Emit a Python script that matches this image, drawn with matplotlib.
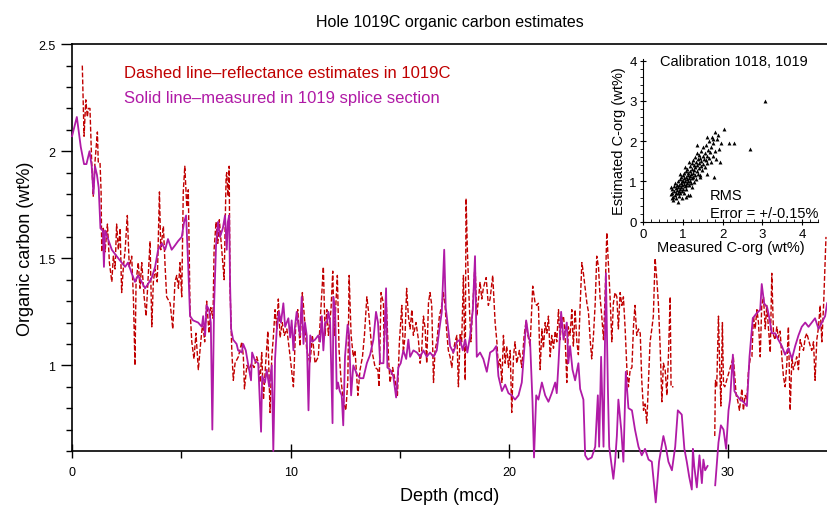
import matplotlib
matplotlib.use("Agg")
import matplotlib.pyplot as plt
from matplotlib.ticker import MultipleLocator
import numpy as np

plt.rcParams['font.family'] = ['Liberation Sans', 'DejaVu Sans']

nan = float('nan')

# measured organic carbon, 1019 splice (depth mcd, wt%)
measured = [
    (0.00, 2.07), (0.22, 2.16), (0.40, 2.02), (0.55, 1.94), (0.66, 1.94), (0.80, 2.00), (0.90, 1.93),
    (0.98, 1.80), (1.05, 1.93), (1.14, 1.89), (1.22, 1.83), (1.30, 1.64), (1.41, 1.63), (1.46, 1.46),
    (1.51, 1.63), (1.65, 1.59), (1.82, 1.54), (2.04, 1.51), (2.27, 1.48), (2.43, 1.46), (2.56, 1.48),
    (2.73, 1.43), (2.88, 1.39), (3.02, 1.42), (3.19, 1.39), (3.34, 1.36), (3.48, 1.38), (3.65, 1.41),
    (3.80, 1.46), (3.94, 1.54), (4.11, 1.57), (4.26, 1.54), (4.39, 1.59), (4.56, 1.54), (4.71, 1.56),
    (4.85, 1.58), (5.02, 1.60), (5.13, 1.67), (5.22, 1.70), (5.31, 1.48), (5.40, 1.23), (5.54, 1.21),
    (5.77, 1.20), (5.94, 1.18), (6.00, 1.23), (6.09, 1.14), (6.16, 1.28), (6.27, 1.26), (6.35, 1.20),
    (6.42, 0.70), (6.50, 1.28), (6.59, 1.56), (6.68, 1.67), (6.77, 1.60), (6.90, 1.64), (7.00, 1.70),
    (7.08, 1.54), (7.13, 1.67), (7.19, 1.70), (7.23, 1.39), (7.28, 1.17), (7.37, 1.12), (7.53, 1.10),
    (7.60, 1.07), (7.77, 1.06), (7.83, 1.10), (7.95, 1.07), (8.05, 1.01), (8.19, 0.93), (8.24, 1.06),
    (8.38, 1.02), (8.52, 1.01), (8.65, 0.69), (8.70, 0.95), (8.83, 0.92), (8.91, 0.98), (9.02, 0.90),
    (9.14, 1.00), (9.21, 0.60), (9.29, 1.03), (9.37, 1.17), (9.47, 1.25), (9.56, 1.20), (9.67, 1.29),
    (9.75, 1.18), (9.90, 1.22), (9.98, 1.13), (10.05, 1.21), (10.13, 1.07), (10.20, 1.18), (10.28, 1.25),
    (10.34, 1.20), (10.43, 1.14), (10.51, 1.32), (10.59, 1.10), (10.66, 1.20), (10.74, 1.14), (10.82, 0.79),
    (10.90, 1.14), (10.99, 1.11), (11.12, 1.12), (11.27, 1.14), (11.35, 1.11), (11.43, 1.23), (11.50, 1.07),
    (11.58, 1.20), (11.66, 1.20), (11.73, 1.25), (11.81, 1.20), (11.92, 0.73), (11.96, 1.32), (12.04, 1.26),
    (12.11, 0.89), (12.17, 0.92), (12.25, 0.88), (12.34, 0.86), (12.41, 0.72), (12.49, 1.04), (12.61, 1.19),
    (12.68, 1.14), (12.77, 0.86), (12.87, 1.00), (13.03, 0.96), (13.18, 0.94), (13.33, 0.94), (13.49, 1.01),
    (13.64, 1.05), (13.79, 1.12), (13.91, 1.25), (14.00, 1.20), (14.10, 1.01), (14.25, 1.01), (14.37, 1.36),
    (14.43, 0.99), (14.55, 0.98), (14.70, 0.95), (14.83, 0.85), (14.93, 0.99), (15.04, 1.01), (15.16, 1.07),
    (15.29, 1.03), (15.39, 1.12), (15.47, 1.04), (15.62, 1.07), (15.78, 1.06), (15.93, 1.04), (16.08, 1.07),
    (16.23, 1.04), (16.38, 1.06), (16.54, 1.04), (16.69, 1.07), (16.81, 1.17), (16.92, 1.25), (17.03, 1.54),
    (17.10, 1.27), (17.18, 1.20), (17.30, 1.09), (17.45, 1.06), (17.61, 1.11), (17.76, 1.12), (17.88, 1.07),
    (17.99, 1.12), (18.09, 1.06), (18.22, 1.14), (18.34, 1.26), (18.44, 1.51), (18.52, 1.04), (18.67, 1.06),
    (18.82, 1.03), (18.98, 0.97), (19.13, 1.06), (19.28, 1.07), (19.41, 1.09), (19.51, 0.95), (19.67, 0.88),
    (19.82, 0.91), (19.97, 0.87), (20.12, 0.86), (20.27, 0.84), (20.43, 0.86), (20.58, 0.92), (20.69, 1.07),
    (20.78, 1.21), (20.88, 1.14), (20.96, 1.11), (21.07, 0.83), (21.14, 0.57), (21.24, 0.86), (21.34, 0.84),
    (21.50, 0.92), (21.65, 0.86), (21.80, 0.83), (21.95, 0.87), (22.11, 0.92), (22.18, 0.87), (22.26, 1.01),
    (22.38, 1.25), (22.49, 1.12), (22.64, 1.20), (22.71, 1.01), (22.79, 1.09), (22.90, 0.98), (23.02, 0.93),
    (23.17, 1.01), (23.25, 0.89), (23.40, 0.84), (23.48, 0.58), (23.60, 0.56), (23.78, 0.57), (23.94, 0.62),
    (24.06, 0.86), (24.12, 0.62), (24.21, 1.04), (24.32, 0.62), (24.43, 1.43), (24.52, 0.89), (24.58, 0.62),
    (24.67, 0.55), (24.77, 0.47), (24.85, 0.55), (24.93, 0.67), (25.00, 0.84), (25.13, 0.70), (25.23, 0.55),
    (25.34, 0.97), (25.46, 0.80), (25.62, 0.79), (25.76, 0.70), (25.92, 0.62), (26.07, 0.58), (26.22, 0.61),
    (26.38, 0.56), (26.53, 0.55), (26.71, 0.36), (26.86, 0.55), (27.06, 0.67), (27.17, 0.62), (27.29, 0.55),
    (27.45, 0.51), (27.60, 0.62), (27.72, 0.79), (27.90, 0.77), (28.02, 0.61), (28.13, 0.55), (28.24, 0.48),
    (28.36, 0.42), (28.41, 0.61), (28.47, 0.53), (28.59, 0.43), (28.71, 0.58), (28.82, 0.45), (28.89, 0.56),
    (28.97, 0.51), (29.08, 0.53), (29.25, nan), (29.43, 0.44), (29.58, 0.64), (29.69, 0.72), (29.81, 0.70),
    (29.93, 0.61), (30.04, 0.79), (30.11, 0.84), (30.24, 1.05), (30.31, 0.88), (30.42, 0.86), (30.57, 0.84),
    (30.72, 0.83), (30.88, 0.81), (31.00, 1.04), (31.15, 1.22), (31.30, 1.24), (31.49, 1.26), (31.56, 1.38),
    (31.67, 1.29), (31.81, 1.27), (31.91, 1.22), (32.02, 1.15), (32.17, 1.15), (32.32, 1.12), (32.48, 1.09),
    (32.63, 1.05), (32.78, 1.08), (32.94, 1.03), (33.09, 1.09), (33.24, 1.14), (33.39, 1.18), (33.55, 1.20),
    (33.70, 1.18), (33.85, 1.20), (34.00, 1.22), (34.16, 1.17), (34.31, 1.20), (34.46, 1.23), (34.55, 1.29),
]

# reflectance based estimates, hole 1019C (depth mcd, wt%)
estimated = [
    (0.47, 2.40), (0.55, 2.07), (0.63, 2.24), (0.70, 2.16), (0.75, 2.20), (0.82, 2.20), (0.90, 1.95),
    (0.97, 1.79), (1.05, 1.95), (1.16, 2.09), (1.20, 1.95), (1.28, 1.95), (1.33, 1.81), (1.36, 1.53),
    (1.43, 1.64), (1.51, 1.53), (1.62, 1.66), (1.71, 1.48), (1.82, 1.39), (1.89, 1.51), (1.97, 1.45),
    (2.04, 1.66), (2.12, 1.54), (2.20, 1.64), (2.27, 1.34), (2.35, 1.46), (2.43, 1.54), (2.53, 1.70),
    (2.62, 1.46), (2.73, 1.51), (2.81, 1.31), (2.88, 1.00), (2.93, 1.39), (3.03, 1.48), (3.11, 1.36),
    (3.19, 1.48), (3.30, 1.32), (3.39, 1.23), (3.49, 1.42), (3.57, 1.58), (3.65, 1.18), (3.72, 1.39),
    (3.80, 1.45), (3.90, 1.39), (4.00, 1.81), (4.06, 1.54), (4.18, 1.65), (4.26, 1.46), (4.33, 1.32),
    (4.49, 1.29), (4.61, 1.17), (4.71, 1.39), (4.79, 1.42), (4.87, 1.36), (4.94, 1.48), (5.02, 1.32),
    (5.09, 1.81), (5.16, 1.93), (5.25, 1.74), (5.32, 1.82), (5.40, 1.26), (5.48, 1.11), (5.58, 1.03),
    (5.67, 1.15), (5.78, 0.98), (5.89, 1.11), (5.98, 1.20), (6.07, 1.11), (6.16, 1.30), (6.27, 1.15),
    (6.35, 1.27), (6.45, 1.22), (6.50, 1.54), (6.59, 1.67), (6.67, 1.57), (6.74, 1.68), (6.85, 1.54),
    (6.96, 1.40), (7.05, 1.88), (7.08, 1.90), (7.14, 1.79), (7.19, 1.93), (7.23, 1.36), (7.31, 1.07),
    (7.38, 0.93), (7.46, 1.01), (7.61, 1.04), (7.77, 1.11), (7.84, 1.04), (7.89, 0.89), (8.00, 1.00),
    (8.10, 0.98), (8.22, 1.01), (8.33, 0.99), (8.45, 1.04), (8.53, 1.01), (8.60, 0.92), (8.68, 1.06),
    (8.76, 0.84), (8.86, 1.01), (8.96, 1.16), (9.06, 0.78), (9.14, 1.04), (9.21, 1.13), (9.29, 1.26),
    (9.37, 1.17), (9.44, 1.31), (9.52, 1.13), (9.62, 1.20), (9.71, 1.14), (9.83, 1.17), (9.98, 1.04),
    (10.13, 0.90), (10.24, 1.20), (10.33, 1.26), (10.43, 1.09), (10.54, 1.34), (10.63, 1.23), (10.74, 1.07),
    (10.89, 1.01), (11.00, 1.14), (11.12, 1.01), (11.27, 1.04), (11.35, 1.20), (11.50, 1.46), (11.58, 1.14),
    (11.66, 1.26), (11.73, 1.14), (11.85, 1.26), (11.93, 1.44), (12.00, 1.14), (12.07, 1.28), (12.14, 1.42),
    (12.22, 1.07), (12.31, 0.93), (12.42, 0.83), (12.53, 0.79), (12.62, 0.93), (12.68, 1.42), (12.77, 1.14),
    (12.87, 1.04), (12.95, 1.07), (13.08, 0.86), (13.18, 0.98), (13.29, 1.04), (13.38, 1.14), (13.49, 1.32),
    (13.59, 1.23), (13.72, 1.07), (13.87, 0.99), (13.99, 0.98), (14.05, 0.90), (14.14, 1.34), (14.25, 1.29),
    (14.28, 1.07), (14.37, 1.32), (14.48, 1.04), (14.55, 0.92), (14.67, 0.99), (14.78, 0.93), (14.89, 0.86),
    (14.98, 1.11), (15.09, 1.28), (15.16, 1.06), (15.24, 1.14), (15.31, 1.36), (15.39, 1.23), (15.47, 1.17),
    (15.55, 1.26), (15.62, 1.14), (15.74, 1.20), (15.85, 1.12), (15.93, 1.01), (16.00, 1.07), (16.08, 1.23),
    (16.16, 1.17), (16.23, 1.01), (16.31, 1.29), (16.38, 1.34), (16.46, 1.28), (16.54, 0.92), (16.61, 1.07),
    (16.69, 1.11), (16.81, 1.23), (16.92, 1.28), (16.99, 1.34), (17.07, 1.28), (17.15, 1.15), (17.22, 1.07),
    (17.30, 1.04), (17.38, 0.99), (17.45, 1.07), (17.53, 1.11), (17.61, 1.14), (17.68, 0.90), (17.76, 1.15),
    (17.83, 1.11), (17.91, 1.42), (17.99, 0.93), (18.03, 1.78), (18.09, 1.54), (18.18, 1.28), (18.25, 1.11),
    (18.34, 1.28), (18.44, 1.48), (18.52, 1.23), (18.61, 1.32), (18.67, 1.39), (18.75, 1.31), (18.82, 1.36),
    (18.95, 1.41), (19.05, 1.28), (19.13, 1.31), (19.25, 1.42), (19.36, 1.20), (19.44, 1.11), (19.51, 0.99),
    (19.59, 1.03), (19.67, 0.92), (19.74, 1.14), (19.82, 1.01), (19.89, 1.09), (19.97, 0.99), (20.05, 1.07),
    (20.12, 0.78), (20.20, 1.04), (20.27, 1.11), (20.35, 1.01), (20.47, 1.07), (20.58, 0.99), (20.69, 1.14),
    (20.78, 1.21), (20.84, 1.15), (20.96, 1.09), (21.08, 1.37), (21.19, 1.29), (21.27, 1.28), (21.34, 1.29),
    (21.42, 0.98), (21.50, 1.17), (21.57, 1.08), (21.65, 1.20), (21.73, 1.15), (21.80, 1.23), (21.88, 1.04),
    (21.95, 1.14), (22.03, 1.08), (22.11, 1.16), (22.18, 1.11), (22.26, 1.26), (22.33, 1.12), (22.41, 1.21),
    (22.49, 1.23), (22.56, 1.14), (22.64, 0.92), (22.71, 1.18), (22.79, 1.14), (22.87, 1.26), (22.94, 1.09),
    (23.02, 1.26), (23.10, 1.11), (23.17, 1.05), (23.25, 1.28), (23.33, 1.48), (23.40, 1.43), (23.48, 1.36),
    (23.56, 1.29), (23.63, 1.25), (23.71, 1.12), (23.78, 1.03), (23.86, 1.14), (23.94, 1.29), (24.01, 1.51),
    (24.09, 1.46), (24.16, 1.32), (24.24, 1.23), (24.32, 1.12), (24.39, 1.32), (24.47, 1.62), (24.54, 1.48),
    (24.62, 1.32), (24.70, 1.11), (24.77, 1.29), (24.85, 1.34), (24.93, 1.32), (25.00, 1.17), (25.08, 1.34),
    (25.16, 1.28), (25.23, 1.32), (25.31, 1.17), (25.39, 0.98), (25.46, 0.90), (25.54, 0.98), (25.62, 0.99),
    (25.69, 1.18), (25.76, 1.28), (25.84, 1.14), (25.92, 1.17), (26.00, 1.15), (26.07, 0.93), (26.15, 0.79),
    (26.22, 0.82), (26.30, 0.73), (26.38, 0.93), (26.45, 1.11), (26.53, 1.17), (26.60, 1.23), (26.68, 1.50),
    (26.76, 1.40), (26.83, 1.29), (26.91, 1.09), (26.99, 0.83), (27.06, 1.01), (27.14, 0.98), (27.22, 0.86),
    (27.29, 1.04), (27.37, 1.32), (27.41, 0.90), (27.52, 0.90), (28.50, nan), (29.41, 0.67), (29.44, 0.93),
    (29.50, 0.90), (29.58, 1.23), (29.63, 1.02), (29.69, 0.81), (29.76, 1.20), (29.81, 0.91), (29.87, 0.90),
    (30.26, 1.04), (30.39, 0.86), (30.45, 0.84), (30.54, 0.79), (30.65, 0.89), (30.72, 0.79), (30.80, 0.86),
    (30.88, 0.84), (30.95, 0.97), (31.03, 1.03), (31.11, 1.04), (31.18, 1.23), (31.26, 1.17), (31.34, 1.26),
    (31.41, 1.20), (31.49, 1.04), (31.56, 1.28), (31.64, 1.32), (31.72, 1.17), (31.79, 1.28), (31.95, 1.06),
    (32.02, 1.43), (32.10, 1.14), (32.17, 1.12), (32.25, 1.18), (32.32, 1.13), (32.40, 1.16), (32.48, 1.04),
    (32.55, 0.95), (32.63, 0.90), (32.71, 1.01), (32.78, 1.18), (32.86, 0.79), (32.94, 1.04), (33.01, 0.98),
    (33.09, 1.01), (33.16, 1.04), (33.24, 0.98), (33.32, 1.12), (33.39, 1.09), (33.47, 1.07), (33.55, 1.13),
    (33.62, 1.15), (33.70, 1.12), (33.78, 1.09), (33.85, 1.07), (33.93, 1.11), (34.00, 0.93), (34.08, 1.12),
    (34.16, 1.18), (34.23, 1.28), (34.31, 1.11), (34.39, 1.28), (34.46, 1.48), (34.50, 1.60),
]

# calibration set 1018/1019: measured vs estimated C-org (wt%)
calib = [
    (0.72, 0.80), (0.74, 0.70), (0.75, 0.62), (0.76, 0.55), (0.78, 0.75), (0.79, 0.88), (0.80, 0.66),
    (0.81, 0.95), (0.82, 0.72), (0.83, 0.84), (0.84, 0.60), (0.85, 0.78), (0.86, 0.92), (0.87, 0.48),
    (0.87, 0.70), (0.88, 0.85), (0.89, 1.00), (0.90, 0.75), (0.90, 0.64), (0.91, 0.90), (0.92, 1.05),
    (0.93, 0.80), (0.94, 0.70), (0.95, 0.95), (0.96, 1.10), (0.96, 0.86), (0.97, 0.76), (0.98, 1.00),
    (0.99, 0.90), (1.00, 1.15), (1.00, 0.82), (1.01, 1.02), (1.02, 0.94), (1.03, 0.72), (1.03, 1.20),
    (1.04, 1.08), (1.05, 0.88), (1.06, 1.00), (1.07, 1.25), (1.07, 0.92), (1.08, 1.12), (1.09, 0.80),
    (1.10, 1.05), (1.10, 0.96), (1.11, 1.30), (1.12, 1.16), (1.13, 0.66), (1.13, 1.00), (1.14, 1.22),
    (1.15, 1.08), (1.16, 0.90), (1.17, 1.38), (1.17, 1.14), (1.18, 1.02), (1.19, 1.26), (1.20, 0.95),
    (1.21, 1.18), (1.22, 1.45), (1.22, 1.08), (1.23, 0.85), (1.24, 1.32), (1.25, 1.12), (1.26, 1.52),
    (1.26, 1.22), (1.27, 0.98), (1.28, 1.40), (1.29, 1.28), (1.30, 1.15), (1.31, 1.60), (1.32, 1.36),
    (1.33, 1.05), (1.34, 1.48), (1.35, 1.25), (1.36, 1.70), (1.37, 1.42), (1.38, 1.18), (1.39, 1.55),
    (1.40, 1.33), (1.41, 1.65), (1.42, 1.45), (1.43, 1.10), (1.44, 1.58), (1.45, 1.38), (1.46, 1.75),
    (1.47, 1.50), (1.48, 1.28), (1.50, 1.62), (1.51, 1.44), (1.52, 1.85), (1.53, 1.55), (1.55, 1.35),
    (1.56, 1.70), (1.58, 1.52), (1.59, 1.90), (1.60, 1.64), (1.61, 1.19), (1.62, 1.45), (1.63, 1.78),
    (1.65, 1.58), (1.66, 2.00), (1.68, 1.72), (1.70, 1.48), (1.72, 1.85), (1.74, 2.10), (1.76, 1.62),
    (1.77, 1.95), (1.78, 1.10), (1.80, 1.75), (1.82, 2.22), (1.84, 1.55), (1.86, 2.05), (1.88, 2.15),
    (1.90, 1.80), (1.93, 1.48), (1.96, 1.95), (2.04, 2.31), (2.17, 1.95), (2.28, 1.96), (2.68, 1.81),
    (3.06, 3.01), (0.70, 0.85), (0.71, 0.68), (0.73, 0.58), (1.44, 1.15), (1.19, 0.65), (1.36, 1.90),
    (1.61, 2.10), (1.76, 2.06), (1.08, 0.62), (0.98, 0.58), (1.05, 1.35), (0.93, 1.18), (1.15, 1.48),
]

meas_depth, meas_corg = zip(*measured)
est_depth, est_corg = zip(*estimated)
cal_meas, cal_est = zip(*calib)

red = '#c00000'
purple = '#b01aa6'

fig = plt.figure(figsize=(8.27, 5.06), dpi=100)
ax = fig.add_axes([0.0871, 0.1067, 0.913, 0.804])

ax.plot(est_depth, est_corg, color=red, lw=1.0, dashes=(3.5, 1.5), zorder=2)
ax.plot(meas_depth, meas_corg, color=purple, lw=1.3, zorder=3, clip_on=False)

ax.set_xlim(0, 34.55)
ax.set_ylim(0.6, 2.5)
ax.spines['right'].set_visible(False)
for s in ['left', 'bottom', 'top']:
    ax.spines[s].set_linewidth(1.2)

ax.xaxis.set_major_locator(MultipleLocator(10))
ax.xaxis.set_minor_locator(MultipleLocator(5))
ax.yaxis.set_minor_locator(MultipleLocator(0.1))
ax.set_yticks([1, 1.5, 2, 2.5])
ax.set_yticklabels(['1', '1.5', '2', '2.5'])
ax.tick_params(axis='x', which='major', direction='inout', length=10, width=1, labelsize=9, pad=6)
ax.tick_params(axis='x', which='minor', direction='out', length=5, width=1)
ax.tick_params(axis='y', which='major', direction='out', length=8, width=1, labelsize=9, pad=4)
ax.tick_params(axis='y', which='minor', direction='out', length=4, width=1)

ax.set_xlabel('Depth (mcd)', fontsize=13, labelpad=6)
ax.set_ylabel('Organic carbon (wt%)', fontsize=13, labelpad=3)
fig.text(0.544, 0.955, 'Hole 1019C organic carbon estimates', ha='center', va='center', fontsize=11.5)

ax.text(2.38, 2.37, 'Dashed line\u2013reflectance estimates in 1019C', color=red,
        fontsize=12, va='center')
ax.text(2.38, 2.25, 'Solid line\u2013measured in 1019 splice section', color=purple,
        fontsize=12, va='center')

# calibration inset
ins = fig.add_axes([0.7775, 0.56, 0.2116, 0.322], facecolor='none')
ins.scatter(cal_meas, cal_est, marker='^', s=8, color='black', linewidths=0)
ins.set_xlim(0, 4.4)
ins.set_ylim(0, 4.05)
ins.spines['right'].set_visible(False)
ins.spines['top'].set_visible(False)
ins.xaxis.set_major_locator(MultipleLocator(1))
ins.xaxis.set_minor_locator(MultipleLocator(0.2))
ins.yaxis.set_major_locator(MultipleLocator(1))
ins.yaxis.set_minor_locator(MultipleLocator(0.2))
ins.tick_params(axis='both', which='major', direction='inout', length=5, labelsize=9.5, pad=2)
ins.tick_params(axis='x', which='minor', direction='in', length=2.5)
ins.tick_params(axis='y', which='minor', direction='out', length=2.5)
ins.set_xlabel('Measured C-org (wt%)', fontsize=10.5, labelpad=0)
ins.set_ylabel('Estimated C-org (wt%)', fontsize=10.5, labelpad=2)
ins.text(0.43, 4.0, 'Calibration 1018, 1019', fontsize=10.5, va='center')
ins.text(1.69, 0.66, 'RMS', fontsize=10.5, va='center')
ins.text(1.69, 0.22, 'Error = +/-0.15%', fontsize=10.5, va='center')

fig.savefig('out.png', dpi=100)
